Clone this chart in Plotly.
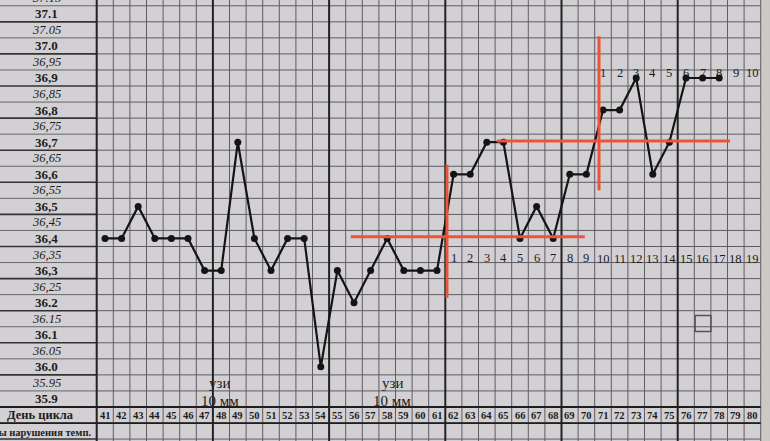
import plotly.graph_objects as go

# ---------------- data ----------------
days = list(range(41, 79))
temps = [36.4, 36.4, 36.5, 36.4, 36.4, 36.4, 36.3, 36.3, 36.7, 36.4,
         36.3, 36.4, 36.4, 36.0, 36.3, 36.2, 36.3, 36.4, 36.3, 36.3,
         36.3, 36.6, 36.6, 36.7, 36.7, 36.4, 36.5, 36.4, 36.6, 36.6,
         36.8, 36.8, 36.9, 36.6, 36.7, 36.9, 36.9, 36.9]

all_days = list(range(41, 81))
week_breaks = [47.5, 54.5, 61.5, 68.5, 75.5]

level_values = [37.15, 37.1, 37.05, 37.0, 36.95, 36.9, 36.85, 36.8, 36.75, 36.7,
                36.65, 36.6, 36.55, 36.5, 36.45, 36.4, 36.35, 36.3, 36.25, 36.2,
                36.15, 36.1, 36.05, 36.0, 35.95, 35.9]
level_labels = ["37.15", "37.1", "37.05", "37.0", "36,95", "36,9", "36,85", "36,8", "36,75", "36,7",
                "36,65", "36,6", "36,55", "36,5", "36,45", "36,4", "36,35", "36,3", "36,25", "36.2",
                "36.15", "36.1", "36.05", "36.0", "35.95", "35.9"]
level_bold = [False, True, False, True, False, True, False, True, False, True,
              False, True, False, True, False, True, False, True, False, True,
              False, True, False, True, False, True]

phase1_days = list(range(62, 71))
phase1_nums = ["1", "2", "3", "4", "5", "6", "7", "8", "9"]
phase2_days = list(range(71, 81))
phase2_top = ["1", "2", "3", "4", "5", "6", "7", "8", "9", "10"]
phase2_bottom = ["10", "11", "12", "13", "14", "15", "16", "17", "18", "19"]

notes = [("узи", "10 мм", 47.9), ("узи", "10 мм", 58.3)]

# red coverline / ovulation markers  (x0, y0, x1, y1)
red_lines = [(55.8, 36.405, 69.9, 36.405),
             (61.6, 36.63, 61.6, 36.215),
             (64.6, 36.704, 78.65, 36.704),
             (70.76, 37.03, 70.76, 36.55)]

# ---------------- figure ----------------
X0, X1 = 34.675, 81.06
Y0, Y1 = 35.769, 37.143
SERIF = "Liberation Serif, Times New Roman, serif"
GRID = "#5f5c64"
DARK = "#222222"
BG = "#d3d0d3"

shapes = []
# lighter paper beyond the grid on the right
shapes.append(dict(type="rect", xref="x", yref="y", x0=80.5, x1=X1 + 1, y0=Y0 - 1, y1=Y1 + 1,
                   fillcolor="#ccc8c5", line=dict(width=0), layer="below"))

# horizontal row boundaries
b = 35.775
k = 0
while b < 37.2:
    shapes.append(dict(type="line", xref="x", yref="y", x0=40.5, x1=80.5, y0=b, y1=b,
                       line=dict(color=GRID, width=1), layer="below"))
    darker = (k % 2 == 0)
    shapes.append(dict(type="line", xref="x", yref="y", x0=X0 - 1, x1=40.5, y0=b, y1=b,
                       line=dict(color="#333333" if darker else "#666666", width=1.6 if darker else 1),
                       layer="below"))
    b = round(b + 0.05, 3)
    k += 1

# vertical column boundaries
for d in all_days:
    xb = d + 0.5
    thick = xb in week_breaks
    shapes.append(dict(type="line", xref="x", yref="y", x0=xb, x1=xb, y0=Y0 - 1, y1=Y1 + 1,
                       line=dict(color=DARK if thick else GRID, width=2 if thick else 1),
                       layer="below"))
shapes.append(dict(type="line", xref="x", yref="y", x0=40.5, x1=40.5, y0=Y0 - 1, y1=Y1 + 1,
                   line=dict(color=DARK, width=2), layer="below"))

# day-of-cycle row box
for yb in (35.875, 35.825):
    shapes.append(dict(type="line", xref="x", yref="y", x0=X0 - 1, x1=80.5, y0=yb, y1=yb,
                       line=dict(color="#1e1e1e", width=1.8), layer="below"))

# small square drawn on the paper
shapes.append(dict(type="rect", xref="x", yref="y", x0=76.55, x1=77.5, y0=36.11, y1=36.16,
                   line=dict(color="#5a5050", width=1.5), layer="below"))

# red lines
for (a, c, e, f) in red_lines:
    shapes.append(dict(type="line", xref="x", yref="y", x0=a, y0=c, x1=e, y1=f,
                       line=dict(color="#ec5438", width=3), layer="above"))

annotations = []
# level labels
for v, lab, bold in zip(level_values, level_labels, level_bold):
    txt = f"<b>{lab}</b>" if bold else f"<i>{lab}</i>"
    yv = min(v, 37.14)
    annotations.append(dict(x=37.5, y=yv, xref="x", yref="y", text=txt, showarrow=False,
                            yshift=(v - yv) * 321,
                            font=dict(family=SERIF, size=13 if bold else 12.5, color="#1c1c1c")))

annotations.append(dict(x=37.1, y=35.85, xref="x", yref="y", text="<b>День цикла</b>",
                        showarrow=False, font=dict(family=SERIF, size=12.5, color="#1c1c1c")))
annotations.append(dict(x=40.3, y=35.797, xref="x", yref="y", text="<b>Факторы нарушения темп.</b>",
                        xanchor="right", showarrow=False,
                        font=dict(family=SERIF, size=10.5, color="#1c1c1c")))

for d in all_days:
    annotations.append(dict(x=d, y=35.85, xref="x", yref="y", text=f"<b>{d}</b>", showarrow=False,
                            font=dict(family=SERIF, size=10.5, color="#1c1c1c")))

for d, n in zip(phase1_days, phase1_nums):
    annotations.append(dict(x=d, y=36.34, xref="x", yref="y", text=n, showarrow=False,
                            font=dict(family=SERIF, size=12.5, color="#1c1c1c")))
for d, n in zip(phase2_days, phase2_bottom):
    annotations.append(dict(x=d, y=36.335, xref="x", yref="y", text=n, showarrow=False,
                            font=dict(family=SERIF, size=12.5, color="#1c1c1c")))
for d, n in zip(phase2_days, phase2_top):
    annotations.append(dict(x=d, y=36.917, xref="x", yref="y", text=n, showarrow=False,
                            font=dict(family=SERIF, size=12.5, color="#1c1c1c")))

for t1, t2, xd in notes:
    annotations.append(dict(x=xd, y=35.95, xref="x", yref="y", text=t1, showarrow=False,
                            font=dict(family=SERIF, size=15, color="#1c1c1c")))
    annotations.append(dict(x=xd, y=35.895, xref="x", yref="y", text=t2, showarrow=False,
                            font=dict(family=SERIF, size=15, color="#1c1c1c")))

fig = go.Figure()
fig.add_trace(go.Scatter(x=days, y=temps, mode="lines+markers",
                         line=dict(color="#141414", width=2.2),
                         marker=dict(color="#141414", size=7),
                         hoverinfo="x+y", showlegend=False, cliponaxis=False))

fig.update_layout(
    width=770, height=441,
    margin=dict(l=0, r=0, t=0, b=0),
    paper_bgcolor=BG,
    plot_bgcolor=BG,
    xaxis=dict(range=[X0, X1], visible=False, fixedrange=True),
    yaxis=dict(range=[Y0, Y1], visible=False, fixedrange=True),
    shapes=shapes,
    annotations=annotations,
    showlegend=False,
)

fig.write_html("out.html",
               config={"displayModeBar": False},
               post_script="document.body.style.margin='0';document.body.style.overflow='hidden';"
                           "document.body.style.background='" + BG + "';")
